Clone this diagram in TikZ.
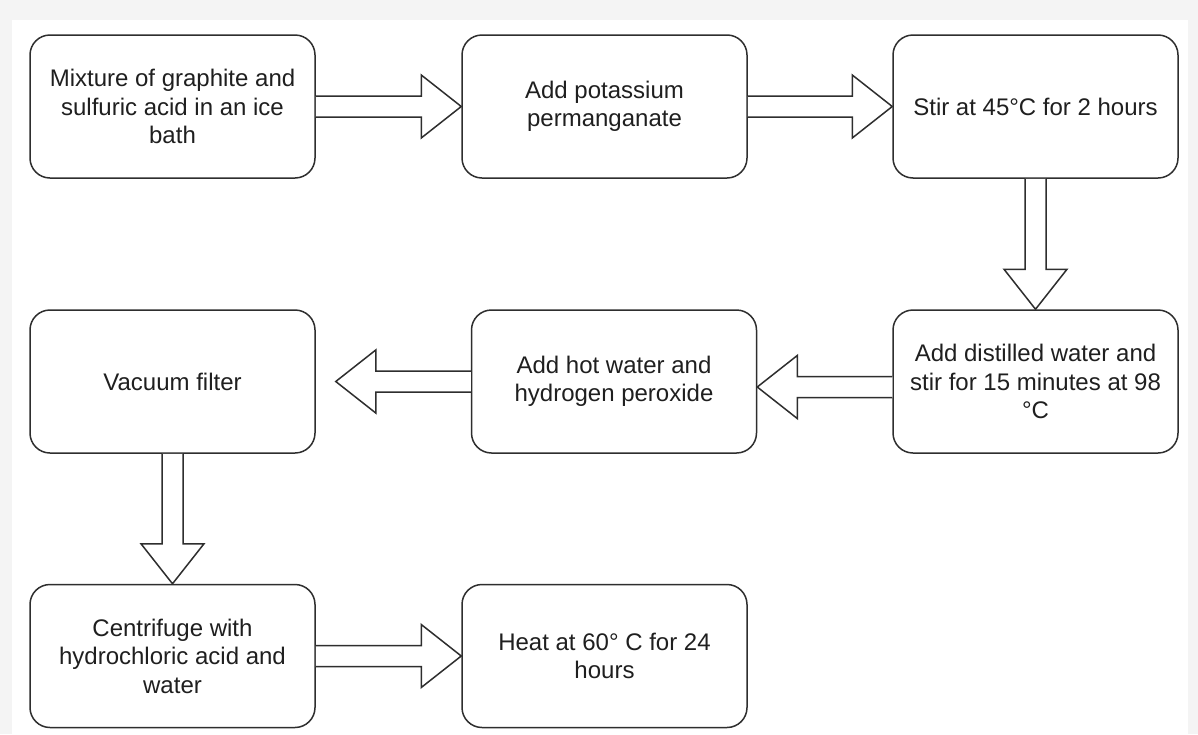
\documentclass[tikz,border=0pt]{standalone}
\usepackage{fontspec}
\setmainfont{Liberation Sans}
\usetikzlibrary{calc}

\definecolor{edgegray}{HTML}{2E2E2E}
\definecolor{inkgray}{HTML}{1F1F1F}
\definecolor{framegray}{HTML}{F4F4F4}

\tikzset{
  stepbox/.style={draw=edgegray, line width=1.5pt, rounded corners=20pt, fill=white,
    minimum width=285pt, minimum height=143pt, inner sep=0pt, align=center,
    text=inkgray, font=\fontsize{24}{28.5}\selectfont},
  flowarrow/.style={draw=edgegray, line width=1.5pt, fill=white, line join=miter}
}

% hollow block arrow from #1 to #2 (tip at #2)
\newcommand{\flowarrow}[2]{%
  \coordinate (hb) at ($(#2)!40pt!(#1)$);
  \draw[flowarrow] ($(#1)!10.5pt!90:(#2)$) -- ($(hb)!10.5pt!90:(#2)$)
    -- ($(hb)!31.5pt!90:(#2)$) -- (#2) -- ($(hb)!31.5pt!-90:(#2)$)
    -- ($(hb)!10.5pt!-90:(#2)$) -- ($(#1)!10.5pt!-90:(#2)$);
}

\begin{document}
\begin{tikzpicture}[x=1pt, y=-1pt]
  \fill[framegray] (0,0) rectangle (1198,734);
  \fill[white] (12,20) rectangle (1188,734);

  % first row
  \node[stepbox] (mix) at (172.5,106.5) {Mixture of graphite and\\sulfuric acid in an ice\\bath};
  \node[stepbox] (kmno) at (604.5,106.5) {Add potassium\\permanganate};
  \node[stepbox] (stir) at (1035.5,106.5) {Stir at 45°C for 2 hours};

  % second row
  \node[stepbox] (vac) at (172.5,381.5) {Vacuum filter};
  \node[stepbox] (hot) at (614,381.5) {Add hot water and\\hydrogen peroxide};
  \node[stepbox] (dist) at (1035.5,381.5) {Add distilled water and\\stir for 15 minutes at 98\\°C};

  % third row
  \node[stepbox] (cent) at (172.5,656) {Centrifuge with\\hydrochloric acid and\\water};
  \node[stepbox] (heat) at (604.5,656) {Heat at 60° C for 24\\hours};

  \coordinate (distw) at ([yshift=-5.5pt]dist.west);
  \coordinate (hote) at ([yshift=-5.5pt]hot.east);
  \coordinate (vacgap) at ([xshift=20pt]vac.east);

  \flowarrow{mix.east}{kmno.west}
  \flowarrow{kmno.east}{stir.west}
  \flowarrow{stir.south}{dist.north}
  \flowarrow{distw}{hote}
  \flowarrow{hot.west}{vacgap}
  \flowarrow{vac.south}{cent.north}
  \flowarrow{cent.east}{heat.west}
\end{tikzpicture}
\end{document}
